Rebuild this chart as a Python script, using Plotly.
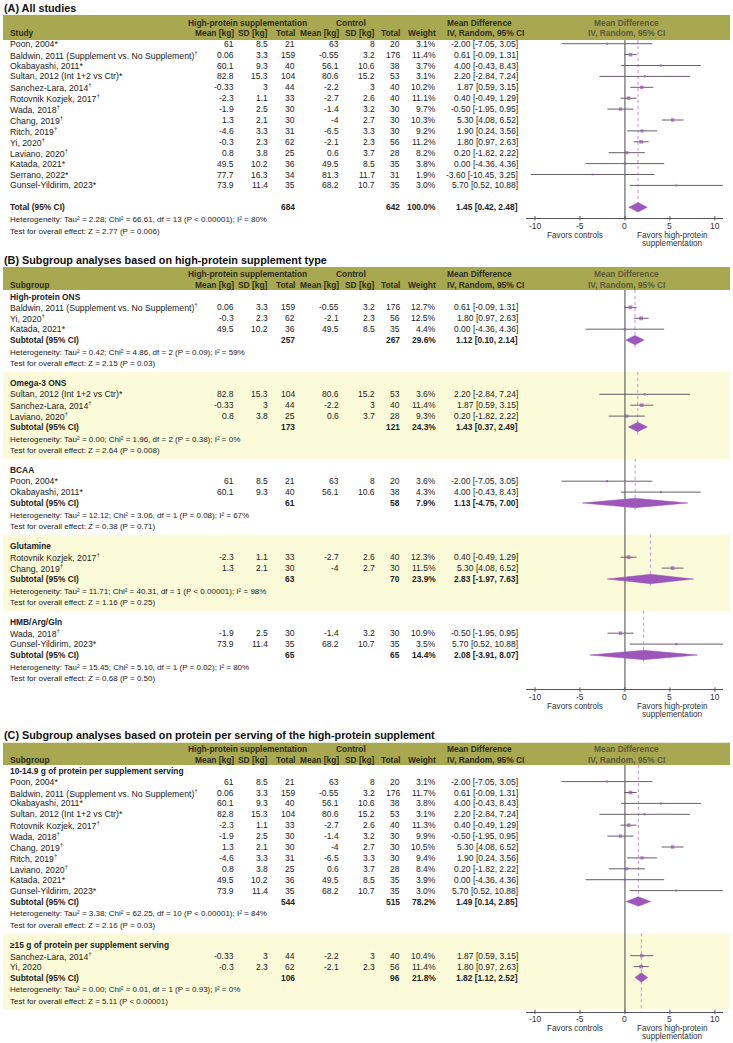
import plotly.graph_objects as go

# ---------------- data ----------------
study_names = ["Poon, 2004*", "Baldwin, 2011 (Supplement vs. No Supplement)†", "Okabayashi, 2011*",
               "Sultan, 2012 (Int 1+2 vs Ctr)*", "Sanchez-Lara, 2014†", "Rotovnik Kozjek, 2017†",
               "Wada, 2018†", "Chang, 2019†", "Ritch, 2019†", "Yi, 2020†", "Laviano, 2020†",
               "Katada, 2021*", "Serrano, 2022*", "Gunsel-Yildirim, 2023*"]
hp_mean = ["61", "0.06", "60.1", "82.8", "-0.33", "-2.3", "-1.9", "1.3", "-4.6", "-0.3", "0.8", "49.5", "77.7", "73.9"]
hp_sd = ["8.5", "3.3", "9.3", "15.3", "3", "1.1", "2.5", "2.1", "3.3", "2.3", "3.8", "10.2", "16.3", "11.4"]
hp_total = [21, 159, 40, 104, 44, 33, 30, 30, 31, 62, 25, 36, 34, 35]
ctrl_mean = ["63", "-0.55", "56.1", "80.6", "-2.2", "-2.7", "-1.4", "-4", "-6.5", "-2.1", "0.6", "49.5", "81.3", "68.2"]
ctrl_sd = ["8", "3.2", "10.6", "15.2", "3", "2.6", "3.2", "2.7", "3.3", "2.3", "3.7", "8.5", "11.7", "10.7"]
ctrl_total = [20, 176, 38, 53, 40, 40, 30, 30, 30, 56, 28, 35, 31, 35]
md = [-2.00, 0.61, 4.00, 2.20, 1.87, 0.40, -0.50, 5.30, 1.90, 1.80, 0.20, 0.00, -3.60, 5.70]
md_lo = [-7.05, -0.09, -0.43, -2.84, 0.59, -0.49, -1.95, 4.08, 0.24, 0.97, -1.82, -4.36, -10.45, 0.52]
md_hi = [3.05, 1.31, 8.43, 7.24, 3.15, 1.29, 0.95, 6.52, 3.56, 2.63, 2.22, 4.36, 3.25, 10.88]

# Panel A: all studies
a_weights = [3.1, 11.4, 3.7, 3.1, 10.2, 11.1, 9.7, 10.3, 9.2, 11.2, 8.2, 3.8, 1.9, 3.0]
a_n = [684, 642]
a_weight_total = "100.0%"
a_est = [1.45, 0.42, 2.48]
a_het = "Heterogeneity: Tau² = 2.28; Chi² = 66.61, df = 13 (P &lt; 0.00001); I² = 80%"
a_z = "Test for overall effect: Z = 2.77 (P = 0.006)"

# Panel B: by supplement type
b_groups = ["High-protein ONS", "Omega-3 ONS", "BCAA", "Glutamine", "HMB/Arg/Gln"]
b_members = [[1, 9, 11], [3, 4, 10], [0, 2], [5, 7], [6, 13]]
b_weights = [[12.7, 12.5, 4.4], [3.6, 11.4, 9.3], [3.6, 4.3], [12.3, 11.5], [10.9, 3.5]]
b_hp_n = [257, 173, 61, 63, 65]
b_ctrl_n = [267, 121, 58, 70, 65]
b_weight_total = ["29.6%", "24.3%", "7.9%", "23.9%", "14.4%"]
b_est = [1.12, 1.43, 1.13, 2.83, 2.08]
b_lo = [0.10, 0.37, -4.75, -1.97, -3.91]
b_hi = [2.14, 2.49, 7.00, 7.63, 8.07]
b_het = ["Heterogeneity: Tau² = 0.42; Chi² = 4.86, df = 2 (P = 0.09); I² = 59%",
         "Heterogeneity: Tau² = 0.00; Chi² = 1.96, df = 2 (P = 0.38); I² = 0%",
         "Heterogeneity: Tau² = 12.12; Chi² = 3.06, df = 1 (P = 0.08); I² = 67%",
         "Heterogeneity: Tau² = 11.71; Chi² = 40.31, df = 1 (P &lt; 0.00001); I² = 98%",
         "Heterogeneity: Tau² = 15.45; Chi² = 5.10, df = 1 (P = 0.02); I² = 80%"]
b_z = ["Test for overall effect: Z = 2.15 (P = 0.03)",
       "Test for overall effect: Z = 2.64 (P = 0.008)",
       "Test for overall effect: Z = 0.38 (P = 0.71)",
       "Test for overall effect: Z = 1.16 (P = 0.25)",
       "Test for overall effect: Z = 0.68 (P = 0.50)"]

# Panel C: by protein per serving
c_groups = ["10-14.9 g of protein per supplement serving", "≥15 g of protein per supplement serving"]
c_members = [[0, 1, 2, 3, 5, 6, 7, 8, 10, 11, 13], [4, 9]]
c_weights = [[3.1, 11.7, 3.8, 3.1, 11.3, 9.9, 10.5, 9.4, 8.4, 3.9, 3.0], [10.4, 11.4]]
c_name_override = {(1, 9): "Yi, 2020"}
c_hp_n = [544, 106]
c_ctrl_n = [515, 96]
c_weight_total = ["78.2%", "21.8%"]
c_est = [1.49, 1.82]
c_lo = [0.14, 1.12]
c_hi = [2.85, 2.52]
c_het = ["Heterogeneity: Tau² = 3.38; Chi² = 62.25, df = 10 (P &lt; 0.00001); I² = 84%",
         "Heterogeneity: Tau² = 0.00; Chi² = 0.01, df = 1 (P = 0.93); I² = 0%"]
c_z = ["Test for overall effect: Z = 2.16 (P = 0.03)",
       "Test for overall effect: Z = 5.11 (P &lt; 0.00001)"]

tick_vals = [-10, -5, 0, 5, 10]
tick_text = ["-10", "-5", "0", "5", "10"]
header_top = ["High-protein supplementation", "Control", "Mean Difference"]
header_cols = ["Mean [kg]", "SD [kg]", "Total", "Mean [kg]", "SD [kg]", "Total", "Weight"]
md_header = "IV, Random, 95% CI"

# ---------------- style / layout ----------------
W, H = 733, 1043
FONT = "Liberation Sans, Arial, sans-serif"
TXT = "#222222"
HDR_TXT = "#2e2e22"
HDR_R = "#5b5b3c"
OLIVE = "#a8a850"
YELLOW = "#fbfbd9"
PURPLE = "#9b57b9"
CI_COL = "#676068"
DASH = "#c98fdb"
ZERO = "#4a4a4a"
AX_COL = "#555555"
FS = 8.5
FS_NAME = 8.7
FS_HDR = 8.4
FS_HET = 8.0
FS_TITLE = 10.8

NAME_X = 9
COL_R = [235, 269, 296, 340, 376, 401, 436.5, 519]
MD_HDR_X = 446
HP_HDR_C = 247
CTRL_HDR_C = 351
PLOT_HDR_C = 626
XDOM = [526, 723]
XRANGE = [-11, 10.9]
ROW = 10.9
BAND_X = [3, 730]
DIA_H = 4.7

ann, shapes, traces = [], [], []


def text(x, y, s, anchor="left", bold=False, size=FS, color=TXT, xref="paper"):
    s = s.replace("†", "<sup>†</sup>")
    if bold:
        s = "<b>" + s + "</b>"
    ann.append(dict(x=x / W if xref == "paper" else x, y=y, xref=xref, yref="y", text=s,
                    xanchor=anchor, yanchor="middle", showarrow=False, borderpad=0,
                    font=dict(family=FONT, size=size, color=color)))


def rect(y0, y1, color):
    shapes.append(dict(type="rect", xref="paper", yref="y", x0=BAND_X[0] / W, x1=BAND_X[1] / W,
                       y0=y0, y1=y1, fillcolor=color, line=dict(width=0), layer="below"))


def vline(xa, x, y0, y1, color, dash="solid"):
    shapes.append(dict(type="line", xref=xa, yref="y", x0=x, x1=x, y0=y0, y1=y1,
                       line=dict(color=color, width=1, dash=dash), layer="below"))


class Forest:
    def __init__(self, xa):
        self.xa = xa
        self.ci_x, self.ci_y = [], []
        self.sq_x, self.sq_y, self.sq_s = [], [], []
        self.dx, self.dy = [], []

    def study(self, i, y, w, name=None):
        text(NAME_X, y, name or study_names[i], size=FS_NAME)
        vals = [hp_mean[i], hp_sd[i], str(hp_total[i]), ctrl_mean[i], ctrl_sd[i], str(ctrl_total[i]),
                f"{w:.1f}%", f"{md[i]:.2f} [{md_lo[i]:.2f}, {md_hi[i]:.2f}]"]
        for v, x in zip(vals, COL_R):
            text(x, y, v, "right")
        self.ci_x += [md_lo[i], md_hi[i], None]
        self.ci_y += [y, y, None]
        self.sq_x.append(md[i])
        self.sq_y.append(y)
        self.sq_s.append(1.6 + 0.18 * w)

    def summary(self, label, y, n1, n2, wt, est, lo, hi):
        text(NAME_X, y, label, bold=True, size=FS_HDR)
        text(COL_R[2], y, str(n1), "right", bold=True, size=FS_HDR)
        text(COL_R[5], y, str(n2), "right", bold=True, size=FS_HDR)
        text(COL_R[6], y, wt, "right", bold=True, size=FS_HDR)
        text(COL_R[7], y, f"{est:.2f} [{lo:.2f}, {hi:.2f}]", "right", bold=True, size=FS_HDR)
        self.dx += [lo, est, hi, est, lo, None]
        self.dy += [y, y - DIA_H, y, y + DIA_H, y, None]

    def finish(self):
        traces.append(go.Scatter(x=self.ci_x, y=self.ci_y, xaxis=self.xa, yaxis="y", mode="lines",
                                 line=dict(color=CI_COL, width=1), hoverinfo="skip", showlegend=False))
        traces.append(go.Scatter(x=self.sq_x, y=self.sq_y, xaxis=self.xa, yaxis="y", mode="markers",
                                 marker=dict(symbol="square", size=self.sq_s, color=PURPLE,
                                             line=dict(width=0)), hoverinfo="skip", showlegend=False))
        traces.append(go.Scatter(x=self.dx, y=self.dy, xaxis=self.xa, yaxis="y", mode="lines",
                                 fill="toself", fillcolor=PURPLE, line=dict(color=PURPLE, width=0.5),
                                 hoverinfo="skip", showlegend=False))


def header(title, title_y, band, h1, h2, first_col):
    text(3, title_y, title, bold=True, size=FS_TITLE, color="#111111")
    rect(band[0], band[1], OLIVE)
    text(HP_HDR_C, h1, header_top[0], "center", True, FS_HDR, HDR_TXT)
    text(CTRL_HDR_C, h1, header_top[1], "center", True, FS_HDR, HDR_TXT)
    text(MD_HDR_X, h1, header_top[2], "left", True, FS_HDR, HDR_TXT)
    text(PLOT_HDR_C, h1, header_top[2], "center", True, FS_HDR, HDR_R)
    text(NAME_X, h2, first_col, "left", True, FS_HDR, HDR_TXT)
    for lbl, x in zip(header_cols, COL_R[:7]):
        text(x, h2, lbl, "right", True, FS_HDR, HDR_TXT)
    text(MD_HDR_X, h2, md_header, "left", True, FS_HDR, HDR_TXT)
    text(PLOT_HDR_C, h2, md_header, "center", True, FS_HDR, HDR_R)


axes = {}


def make_axis(xa, axname, axis_y):
    axes[axname] = dict(domain=[XDOM[0] / W, XDOM[1] / W], range=XRANGE, anchor="free",
                        position=1 - axis_y / H, showline=True, linecolor=AX_COL, linewidth=1,
                        ticks="", showticklabels=False, showgrid=False, zeroline=False,
                        fixedrange=True)
    for v, t in zip(tick_vals, tick_text):
        shapes.append(dict(type="line", xref=xa, yref="y", x0=v, x1=v, y0=axis_y - 2,
                           y1=axis_y + 2.5, line=dict(color=AX_COL, width=1)))
        text(v, axis_y + 7.5, t, "center", size=8.5, color="#333333", xref=xa)
    text(575, axis_y + 17, "Favors controls", "center", size=8.2, color="#333333")
    text(672, axis_y + 17, "Favors high-protein", "center", size=8.2, color="#333333")
    text(672, axis_y + 25, "supplementation", "center", size=8.2, color="#333333")


# ---------- Panel A ----------
A_AXIS = 218
header("(A) All studies", 8, (15, 40), 22.5, 33, "Study")
fa = Forest("x")
y = 43.7
for i, w in enumerate(a_weights):
    fa.study(i, y, w)
    last = y
    y += ROW
ty = last + 2 * ROW + 0.1
fa.summary("Total (95% CI)", ty, a_n[0], a_n[1], a_weight_total, *a_est)
text(NAME_X, ty + 12, a_het, size=FS_HET)
text(NAME_X, ty + 23.7, a_z, size=FS_HET)
vline("x", 0, 40, A_AXIS, ZERO)
vline("x", a_est[0], 40, ty + 6, DASH, "dot")
fa.finish()
make_axis("x", "xaxis", A_AXIS)


# ---------- grouped panels ----------
def grouped(xa, axname, title, title_y, band, h1, h2, label0, axis_y, groups, members, weights,
            n1, n2, wt, est, lo, hi, het, z, override=None, last_to_axis=False):
    header(title, title_y, band, h1, h2, "Subgroup")
    f = Forest(xa)
    y = label0
    for g, gname in enumerate(groups):
        k = len(members[g])
        sub = y + ROW * (k + 1)
        hy = sub + 12.3
        zy = hy + 11.5
        if g % 2 == 1:
            rect(y - 11.5, zy + 8.5, YELLOW)
        text(NAME_X, y, gname, bold=True, size=FS_HDR)
        for j, (i, w) in enumerate(zip(members[g], weights[g])):
            name = override.get((g, i)) if override else None
            f.study(i, y + ROW * (j + 1), w, name)
        f.summary("Subtotal (95% CI)", sub, n1[g], n2[g], wt[g], est[g], lo[g], hi[g])
        text(NAME_X, hy, het[g], size=FS_HET)
        text(NAME_X, zy, z[g], size=FS_HET)
        d_top = max(band[1], y - 11.5)
        d_bot = axis_y if (last_to_axis and g == len(groups) - 1) else sub + 8
        vline(xa, est[g], d_top, d_bot, DASH, "dot")
        y = zy + 19.5
    vline(xa, 0, band[1], axis_y, ZERO)
    f.finish()
    make_axis(xa, axname, axis_y)


grouped("x2", "xaxis2", "(B) Subgroup analyses based on high-protein supplement type", 260,
        (267, 290), 274, 285, 296.5, 689.3, b_groups, b_members, b_weights,
        b_hp_n, b_ctrl_n, b_weight_total, b_est, b_lo, b_hi, b_het, b_z)

grouped("x3", "xaxis3", "(C) Subgroup analyses based on protein per serving of the high-protein supplement",
        735, (742.7, 765), 749, 760, 770.7, 1011.7, c_groups, c_members, c_weights,
        c_hp_n, c_ctrl_n, c_weight_total, c_est, c_lo, c_hi, c_het, c_z,
        override=c_name_override, last_to_axis=True)

fig = go.Figure(traces)
fig.update_layout(
    width=W, height=H, margin=dict(l=0, r=0, t=0, b=0),
    paper_bgcolor="white", plot_bgcolor="rgba(0,0,0,0)",
    yaxis=dict(range=[H, 0], domain=[0, 1], visible=False, fixedrange=True),
    annotations=ann, shapes=shapes, showlegend=False,
    **axes,
)
fig.write_html("out.html", config={"displayModeBar": False},
               post_script="document.body.style.margin='0px';document.body.style.overflow='hidden';")
